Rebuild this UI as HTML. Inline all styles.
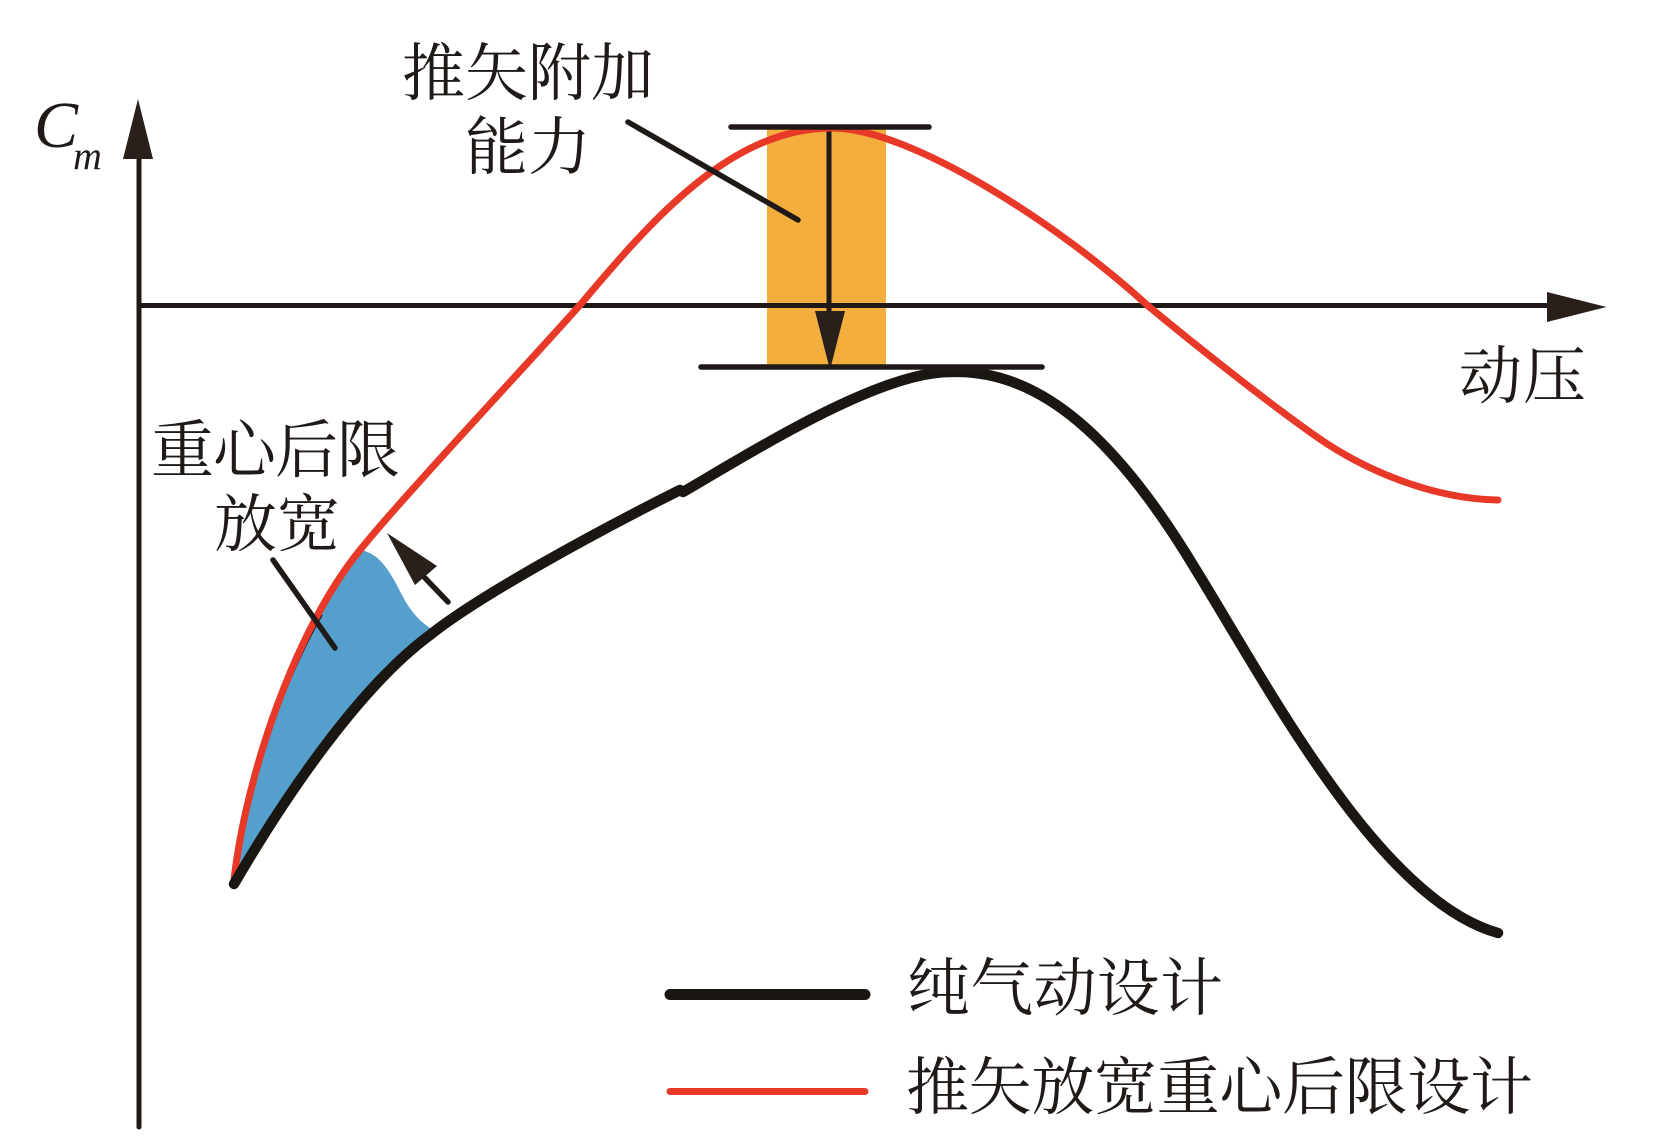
<!DOCTYPE html>
<html lang="zh">
<head>
<meta charset="utf-8">
<title>推矢放宽重心后限设计</title>
<style>
html,body{margin:0;padding:0;background:#fff;}
svg{display:block;}
text{font-family:"Liberation Serif","Noto Serif CJK SC",serif;fill:#1f1a17;}
</style>
</head>
<body>
<svg xmlns="http://www.w3.org/2000/svg" width="1654" height="1139" viewBox="0 0 1654 1139">
<rect width="1654" height="1139" fill="#fff"/>
<rect x="767" y="127" width="119" height="240" fill="#F4AE3D"/>
<path d="M234,880 C246,775 295,630 360,550 Q364,550 367,552 C382,557 392,575 403,597 C410,610 418,620 430,628 L430,635 C360,690 283,800 234,884 Z" fill="#559FCD"/>
<path d="M246,820 C258,760 285,680 322,615" fill="none" stroke="#231815" stroke-width="1.5"/>
<g stroke="#1f1a17" fill="none" stroke-linecap="round">
<line x1="139" y1="150" x2="139" y2="1127" stroke-width="5"/>
<line x1="139" y1="305.5" x2="1560" y2="305.5" stroke-width="5"/>
<line x1="829" y1="127" x2="829" y2="320" stroke-width="5"/>
</g>
<g fill="#2a201b">
<polygon points="138,99 123,159 153,159"/>
<polygon points="1606.5,307 1547,292 1547,322"/>
<polygon points="815,311 845,311 830,370"/>
<polygon points="387,533 437,566 415,585"/>
</g>
<path d="M234,880 C246,775 295,630 360,550 C400,500 535,356 580,305 C650,222 730,128 832,128 C910,128 1060,225 1147,305 C1200,349 1270,404 1317,437 C1367,472 1435,499 1498,500" fill="none" stroke="#E73828" stroke-width="7" stroke-linecap="round"/>
<g fill="none" stroke="#1A1612" stroke-width="10.5" stroke-linecap="round">
<path d="M234,884 C283,800 358,688 430,635 C480,595 600,530 680,490"/>
<path d="M683,492 C760,447 880,372 950,372 C1040,368 1118,440 1196,570 C1270,690 1380,900 1498,933"/>
</g>
<g stroke="#1f1a17" fill="none" stroke-linecap="round" stroke-width="5.5">
<line x1="731" y1="127" x2="929" y2="127"/>
<line x1="701" y1="367" x2="1042" y2="367"/>
<line x1="628" y1="122" x2="798" y2="220"/>
<line x1="273" y1="560" x2="335" y2="648"/>
<line x1="425" y1="578" x2="448" y2="602"/>
</g>
<line x1="670" y1="994.5" x2="865" y2="994.5" stroke="#1A1612" stroke-width="11" stroke-linecap="round"/>
<line x1="670" y1="1091.5" x2="865" y2="1091.5" stroke="#E73828" stroke-width="7" stroke-linecap="round"/>
<text x="34" y="147" font-size="66" font-style="italic">C</text>
<text x="73" y="169" font-size="40" font-style="italic">m</text>
<text x="402" y="95" font-size="63" textLength="252" lengthAdjust="spacing">推矢附加</text>
<text x="465" y="169" font-size="63" textLength="126" lengthAdjust="spacing">能力</text>
<text x="151" y="472" font-size="63" textLength="249" lengthAdjust="spacing">重心后限</text>
<text x="214" y="546" font-size="63" textLength="126" lengthAdjust="spacing">放宽</text>
<text x="1459" y="398" font-size="63" textLength="127" lengthAdjust="spacing">动压</text>
<text x="907" y="1010" font-size="63" textLength="316" lengthAdjust="spacing">纯气动设计</text>
<text x="906" y="1109" font-size="63" textLength="627" lengthAdjust="spacing">推矢放宽重心后限设计</text>
</svg>
</body>
</html>
